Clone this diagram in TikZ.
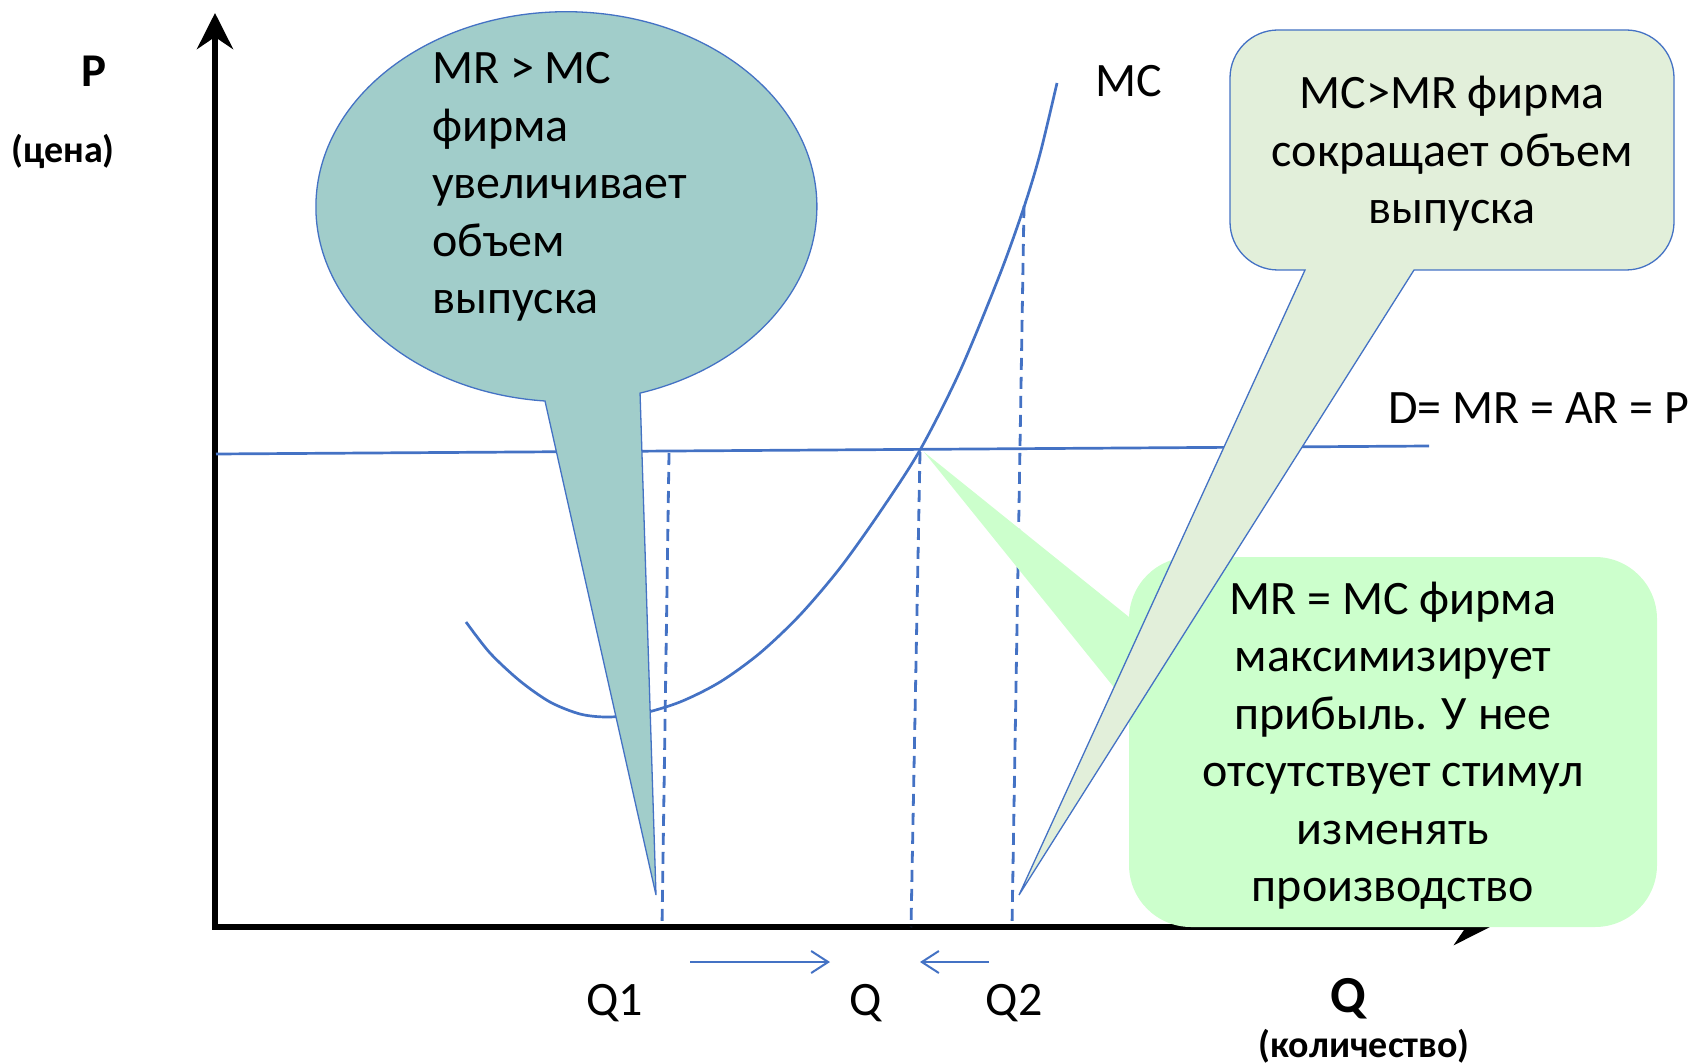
\documentclass[tikz,border=0pt]{standalone}
\usepackage{fontspec}
\setmainfont{Carlito}
\usetikzlibrary{arrows.meta}
\definecolor{lineblue}{RGB}{68,114,196}
\definecolor{tealfill}{RGB}{161,205,202}
\definecolor{paleolive}{RGB}{226,239,218}
\definecolor{mintfill}{RGB}{204,255,204}
\newcommand\mylinesC[1]{\vtop{\halign{\hfil##\hfil\cr#1\crcr}}}
\newcommand\mylinesL[1]{\vtop{\halign{##\hfil\cr#1\crcr}}}
\begin{document}
\begin{tikzpicture}[x=1pt,y=-1pt,
  axisline/.style={line width=6.5pt, black},
  curveline/.style={lineblue, line width=2.7pt},
  dropline/.style={lineblue, line width=2.8pt, dash pattern=on 12pt off 7pt},
  shiftarrow/.style={lineblue, line width=2pt, -{Straight Barb[length=17pt,width=22pt]}},
  calloutedge/.style={draw=lineblue, line width=1.3pt, line join=miter},
  bubfont/.style={font=\fontsize{48}{57.5}\selectfont, inner sep=0pt},
  lbl/.style={font=\fontsize{48}{57.5}\selectfont, inner sep=0pt, anchor=base},
  boldlbl/.style={font=\bfseries\fontsize{#1}{50}\selectfont, inner sep=0pt, anchor=base},
]
\useasboundingbox (0,0) rectangle (1691,1064);

% axes
\coordinate (ytip) at (215,13);
\coordinate (origin) at (215,927);
\coordinate (xtip) at (1490,927);
\draw[axisline, {Stealth[length=36pt,width=36pt,inset=12pt]}-{Stealth[length=36pt,width=36pt,inset=12pt]}] (ytip) -- (origin) -- (xtip);

% demand line
\coordinate (dleft) at (216,454);
\coordinate (dright) at (1429,446);
\draw[curveline] (dleft) -- (dright);

% MC curve
\draw[curveline] plot[smooth, tension=0.5] coordinates {(466,622) (490,653) (520,681) (550,702) (580,714) (607,717) (640,714) (680,702) (720,682) (760,653) (800,615) (840,568) (880,512) (920,450) (960,371) (1000,274) (1024,207) (1040,154) (1057,83)};

% dashed drop lines
\coordinate (q1top) at (669,453);
\coordinate (q1bot) at (662,927);
\coordinate (qtop) at (920,452);
\coordinate (qbot) at (911,927);
\coordinate (q2top) at (1024,206);
\coordinate (q2bot) at (1012,927);
\draw[dropline] (q1top) -- (q1bot);
\draw[dropline] (qtop) -- (qbot);
\draw[dropline] (q2top) -- (q2bot);

% arrows below axis
\coordinate (ra1) at (690,962);
\coordinate (ra2) at (830,962);
\coordinate (la1) at (989,962);
\coordinate (la2) at (920,962);
\draw[shiftarrow] (ra1) -- (ra2);
\draw[shiftarrow] (la1) -- (la2);

% MR = MC callout (borderless)
\fill[mintfill, rounded corners=62pt] (1129,557) rectangle (1657,927);
\fill[mintfill] (924,452) -- (1129,617) -- (1129,706) -- cycle;

% MR > MC callout (ellipse)
\filldraw[fill=tealfill, calloutedge] (545,401) arc[start angle=94.9, end angle=432.9, x radius=250.5, y radius=195] -- (656,895) -- cycle;

% MC > MR callout (rounded rectangle)
\filldraw[fill=paleolive, calloutedge] (1305,270) -- (1019,895) -- (1414,270) -- (1626,270)
  arc[start angle=90,end angle=0,radius=48] -- (1674,78)
  arc[start angle=0,end angle=-90,radius=48] -- (1278,30)
  arc[start angle=-90,end angle=-180,radius=48] -- (1230,222)
  arc[start angle=180,end angle=90,radius=48] -- cycle;

% texts
\node[bubfont, anchor=base west] (incr) at (432,84) {\mylinesL{MR > MC\cr фирма\cr увеличивает\cr объем\cr выпуска}};
\node[bubfont, anchor=base] (decr) at (1452,109) {\mylinesC{MC>MR фирма\cr сокращает объем\cr выпуска}};
\node[bubfont, anchor=base] (eq) at (1393,614) {\mylinesC{MR = MC фирма\cr максимизирует\cr прибыль. У нее\cr отсутствует стимул\cr изменять\cr производство}};

\node[lbl] (mclbl) at (1129,97) {MC};
\node[lbl, anchor=base west] (dlbl) at (1388,423) {D= MR = AR = P};
\node[lbl] (q1lbl) at (615,1015) {Q1};
\node[lbl] (qlbl) at (866,1015) {Q};
\node[lbl] (q2lbl) at (1014,1015) {Q2};

\node[boldlbl=47] (plbl) at (94,87) {P};
\node[boldlbl=38] (pword) at (63,163) {(цена)};
\node[boldlbl=52] (qaxis) at (1348,1012) {Q};
\node[boldlbl=38] (qword) at (1364,1057) {(количество)};
\end{tikzpicture}
\end{document}
